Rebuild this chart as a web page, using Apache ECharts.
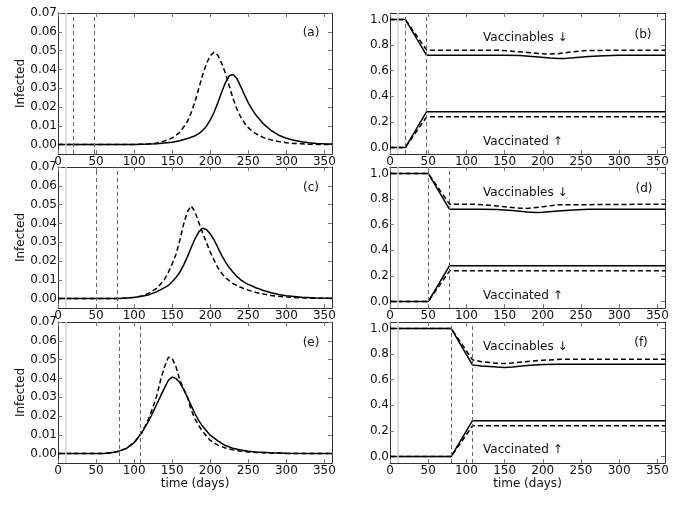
<!DOCTYPE html>
<html>
<head>
<meta charset="utf-8">
<script src="https://cdn.jsdelivr.net/npm/echarts@6/dist/echarts.min.js"></script>
<style>
  html, body { margin: 0; background: #fff; }
  #chart { width: 685px; height: 515px; }
</style>
</head>
<body>
<div id="chart"></div>
<script>
// ticks
const xTicks = [0, 50, 100, 150, 200, 250, 300, 350];
const infTicks = [0, 0.01, 0.02, 0.03, 0.04, 0.05, 0.06, 0.07];
const fracTicks = [0, 0.2, 0.4, 0.6, 0.8, 1.0];

// vaccination campaign per row (days) + the grey reference day
const campaignStart = [20, 50, 80];
const campaignEnd = [48, 78, 108];
const refDay = 10;

// (a) infected
const daysA = [0, 50, 100, 110, 120, 130, 140, 150, 160, 170, 175, 180, 185, 190, 195, 200, 205, 210, 215, 220, 225, 230, 235, 240, 245, 250, 255, 260, 270, 280, 290, 300, 310, 320, 330, 340, 350, 360];
const infSolidA = [0, 0, 0.0001, 0.0002, 0.0003, 0.0005, 0.0008, 0.0013, 0.0021, 0.0032, 0.0039, 0.0047, 0.0058, 0.0075, 0.0098, 0.0130, 0.0172, 0.0222, 0.0278, 0.0330, 0.0366, 0.0373, 0.0352, 0.0310, 0.0265, 0.0222, 0.0187, 0.0157, 0.0110, 0.0075, 0.0050, 0.0034, 0.0023, 0.0015, 0.0010, 0.0006, 0.0004, 0.0003];
const infDashA = [0, 0, 0.0001, 0.0002, 0.0005, 0.0009, 0.0019, 0.0035, 0.0065, 0.0122, 0.0170, 0.0228, 0.0300, 0.0370, 0.0430, 0.0472, 0.0492, 0.0475, 0.0432, 0.0380, 0.0312, 0.0245, 0.0190, 0.0147, 0.0115, 0.0090, 0.0072, 0.0058, 0.0037, 0.0025, 0.0016, 0.0010, 0.0006, 0.0004, 0.0002, 0.0001, 0.0001, 0.0001];

// (c) infected
const daysC = [0, 50, 80, 90, 100, 110, 120, 130, 140, 145, 150, 155, 160, 165, 170, 175, 180, 185, 190, 195, 200, 205, 210, 215, 220, 225, 230, 235, 240, 245, 250, 255, 260, 270, 280, 290, 300, 320, 340, 360];
const infSolidC = [0, 0, 0.0001, 0.0003, 0.0006, 0.0012, 0.0021, 0.0037, 0.0058, 0.0070, 0.0090, 0.0112, 0.0140, 0.0178, 0.0222, 0.0272, 0.0318, 0.0355, 0.0374, 0.0368, 0.0345, 0.0312, 0.0272, 0.0230, 0.0195, 0.0165, 0.0140, 0.0118, 0.0100, 0.0086, 0.0076, 0.0067, 0.0058, 0.0043, 0.0031, 0.0022, 0.0015, 0.0007, 0.0003, 0.0002];
const infDashC = [0, 0, 0.0001, 0.0003, 0.0007, 0.0014, 0.0030, 0.0056, 0.0102, 0.0140, 0.0185, 0.0235, 0.0310, 0.0395, 0.0462, 0.0493, 0.0462, 0.0405, 0.0350, 0.0298, 0.0248, 0.0205, 0.0165, 0.0135, 0.0112, 0.0095, 0.0080, 0.0069, 0.0060, 0.0052, 0.0045, 0.0039, 0.0033, 0.0024, 0.0017, 0.0012, 0.0008, 0.0004, 0.0002, 0.0001];

// (e) infected
const daysE = [0, 50, 60, 70, 80, 90, 100, 108, 110, 115, 120, 125, 130, 135, 140, 145, 150, 155, 160, 165, 170, 175, 180, 185, 190, 200, 210, 220, 230, 240, 250, 260, 280, 300, 330, 360];
const infSolidE = [0, 0, 0.0001, 0.0004, 0.0013, 0.0028, 0.0058, 0.0100, 0.0112, 0.0145, 0.0180, 0.0222, 0.0265, 0.0308, 0.0350, 0.0390, 0.0407, 0.0400, 0.0378, 0.0342, 0.0300, 0.0255, 0.0212, 0.0175, 0.0145, 0.0098, 0.0068, 0.0043, 0.0028, 0.0019, 0.0013, 0.0009, 0.0004, 0.0002, 0.0001, 0];
const infDashE = [0, 0, 0.0001, 0.0004, 0.0013, 0.0028, 0.0058, 0.0100, 0.0112, 0.0150, 0.0195, 0.0250, 0.0312, 0.0395, 0.0462, 0.0513, 0.0506, 0.0462, 0.0392, 0.0345, 0.0300, 0.0232, 0.0185, 0.0148, 0.0118, 0.0070, 0.0045, 0.0030, 0.0020, 0.0013, 0.0009, 0.0006, 0.0003, 0.0001, 0, 0];

// (b) vaccinables / vaccinated
const vbDaysSolidB = [0, 20, 48, 100, 150, 170, 190, 210, 220, 230, 240, 260, 280, 300, 360];
const vbSolidB = [1, 1, 0.72, 0.72, 0.72, 0.718, 0.708, 0.698, 0.695, 0.696, 0.700, 0.710, 0.717, 0.72, 0.72];
const vbDaysDashB = [0, 20, 48, 100, 140, 160, 180, 200, 210, 220, 240, 260, 360];
const vbDashB = [1, 1, 0.76, 0.76, 0.76, 0.752, 0.742, 0.732, 0.730, 0.733, 0.748, 0.758, 0.76];
const vacDaysB = [0, 20, 48, 360];
const vacSolidB = [0, 0, 0.28, 0.28];
const vacDashB = [0, 0, 0.24, 0.24];

// (d)
const vbDaysSolidD = [0, 50, 78, 120, 140, 160, 180, 190, 200, 220, 240, 260, 360];
const vbSolidD = [1, 1, 0.72, 0.72, 0.718, 0.710, 0.698, 0.695, 0.697, 0.706, 0.714, 0.72, 0.72];
const vbDaysDashD = [0, 50, 78, 110, 130, 150, 170, 180, 200, 220, 360];
const vbDashD = [1, 1, 0.76, 0.76, 0.752, 0.740, 0.728, 0.727, 0.740, 0.755, 0.76];
const vacDaysD = [0, 50, 78, 360];
const vacSolidD = [0, 0, 0.28, 0.28];
const vacDashD = [0, 0, 0.24, 0.24];

// (f)
const vbDaysSolidF = [0, 80, 108, 120, 140, 150, 160, 180, 200, 220, 360];
const vbSolidF = [1, 1, 0.715, 0.707, 0.698, 0.696, 0.699, 0.710, 0.718, 0.72, 0.72];
const vbDaysDashF = [0, 80, 108, 120, 140, 150, 160, 180, 200, 230, 360];
const vbDashF = [1, 1, 0.755, 0.740, 0.728, 0.726, 0.730, 0.742, 0.752, 0.76, 0.76];
const vacDaysF = [0, 80, 108, 360];
const vacSolidF = [0, 0, 0.28, 0.28];
const vacDashF = [0, 0, 0.24, 0.24];

const tags = ['(a)', '(b)', '(c)', '(d)', '(e)', '(f)'];

const FONT = 'DejaVu Sans';
const TXT = '#111';
const zip = (xs, ys) => xs.map((x, k) => [x, ys[k]]);

const grids = [];
const xAxes = [];
const yAxes = [];
const series = [];
const graphics = [];

const tagPos = [[311, 33], [643, 35], [311, 188], [644, 189], [311, 343], [641, 343]];
const vbLabelY = [38, 193, 347];
const vacLabelY = [142, 296, 450];
const rowTop = [13, 167, 322];

for (let i = 0; i < 6; i++) {
  const row = Math.floor(i / 2);
  const isLeft = i % 2 === 0;
  grids.push({
    left: isLeft ? 58 : 390, top: rowTop[row],
    width: isLeft ? 274 : 275, height: 141
  });

  const lbl = { fontFamily: FONT, fontSize: 12, color: TXT };
  const axLine = { onZero: false, lineStyle: { color: '#333', width: 1 } };
  const tick = { inside: true, length: 4, lineStyle: { color: '#777' } };

  xAxes[i] = {
    type: 'value', gridIndex: i, position: 'bottom', min: 0, max: 360,
    name: row === 2 ? 'time (days)' : '', nameLocation: 'middle', nameGap: 13,
    nameTextStyle: lbl,
    axisLine: axLine,
    axisTick: Object.assign({ customValues: xTicks }, tick),
    axisLabel: Object.assign({ customValues: xTicks, margin: 2 }, lbl),
    splitLine: { show: false }
  };
  xAxes[6 + i] = {
    type: 'value', gridIndex: i, position: 'top', min: 0, max: 360,
    axisLine: axLine,
    axisTick: Object.assign({ customValues: xTicks }, tick),
    axisLabel: { show: false },
    splitLine: { show: false }
  };

  const yt = isLeft ? infTicks : fracTicks;
  const fmt = isLeft ? (v => v.toFixed(2)) : (v => v.toFixed(1));
  const ymin = isLeft ? -0.005 : -0.05;
  const ymax = isLeft ? 0.07 : 1.05;
  yAxes[i] = {
    type: 'value', gridIndex: i, position: 'left', min: ymin, max: ymax,
    name: isLeft ? 'Infected' : '', nameLocation: 'middle', nameGap: 26,
    nameTextStyle: lbl,
    axisLine: axLine,
    axisTick: Object.assign({ customValues: yt }, tick),
    axisLabel: Object.assign({ customValues: yt, margin: 1, formatter: fmt }, lbl),
    splitLine: { show: false }
  };
  yAxes[6 + i] = {
    type: 'value', gridIndex: i, position: 'right', min: ymin, max: ymax,
    axisLine: axLine,
    axisTick: Object.assign({ customValues: yt }, tick),
    axisLabel: { show: false },
    splitLine: { show: false }
  };

  graphics.push({
    type: 'text', x: tagPos[i][0], y: tagPos[i][1],
    style: { text: tags[i], fontFamily: FONT, fontSize: 12, fill: TXT, align: 'center', verticalAlign: 'middle' }
  });
  if (!isLeft) {
    graphics.push({
      type: 'text', x: 483, y: vbLabelY[row],
      style: { text: 'Vaccinables \u2193', fontFamily: FONT, fontSize: 12, fill: TXT, align: 'left', verticalAlign: 'middle' }
    });
    graphics.push({
      type: 'text', x: 483, y: vacLabelY[row],
      style: { text: 'Vaccinated \u2191', fontFamily: FONT, fontSize: 12, fill: TXT, align: 'left', verticalAlign: 'middle' }
    });
  }
}

const vDash = { color: '#666', width: 1, type: [4, 3] };
function marks(row) {
  return {
    silent: true, symbol: ['none', 'none'], label: { show: false }, animation: false,
    data: [
      { xAxis: refDay, lineStyle: { color: '#d4d4d4', width: 1.5, type: 'solid' } },
      { xAxis: campaignStart[row], lineStyle: vDash },
      { xAxis: campaignEnd[row], lineStyle: vDash }
    ]
  };
}

function line(i, xs, ys, dashed, extra) {
  return Object.assign({
    type: 'line', xAxisIndex: i, yAxisIndex: i, data: zip(xs, ys),
    symbol: 'none', showSymbol: false, smooth: false, animation: false, z: 3,
    lineStyle: { color: '#000', width: 1.5, type: dashed ? [5, 3] : 'solid' }
  }, extra || {});
}

// infected panels
series.push(line(0, daysA, infSolidA, false, { markLine: marks(0) }));
series.push(line(0, daysA, infDashA, true));
series.push(line(2, daysC, infSolidC, false, { markLine: marks(1) }));
series.push(line(2, daysC, infDashC, true));
series.push(line(4, daysE, infSolidE, false, { markLine: marks(2) }));
series.push(line(4, daysE, infDashE, true));

// vaccination panels
series.push(line(1, vbDaysSolidB, vbSolidB, false, { markLine: marks(0) }));
series.push(line(1, vbDaysDashB, vbDashB, true));
series.push(line(1, vacDaysB, vacSolidB, false));
series.push(line(1, vacDaysB, vacDashB, true));
series.push(line(3, vbDaysSolidD, vbSolidD, false, { markLine: marks(1) }));
series.push(line(3, vbDaysDashD, vbDashD, true));
series.push(line(3, vacDaysD, vacSolidD, false));
series.push(line(3, vacDaysD, vacDashD, true));
series.push(line(5, vbDaysSolidF, vbSolidF, false, { markLine: marks(2) }));
series.push(line(5, vbDaysDashF, vbDashF, true));
series.push(line(5, vacDaysF, vacSolidF, false));
series.push(line(5, vacDaysF, vacDashF, true));

const chart = echarts.init(document.getElementById('chart'), null, { renderer: 'canvas' });
chart.setOption({
  backgroundColor: '#fff',
  animation: false,
  grid: grids,
  xAxis: xAxes,
  yAxis: yAxes,
  series: series,
  graphic: graphics
});
</script>
</body>
</html>
